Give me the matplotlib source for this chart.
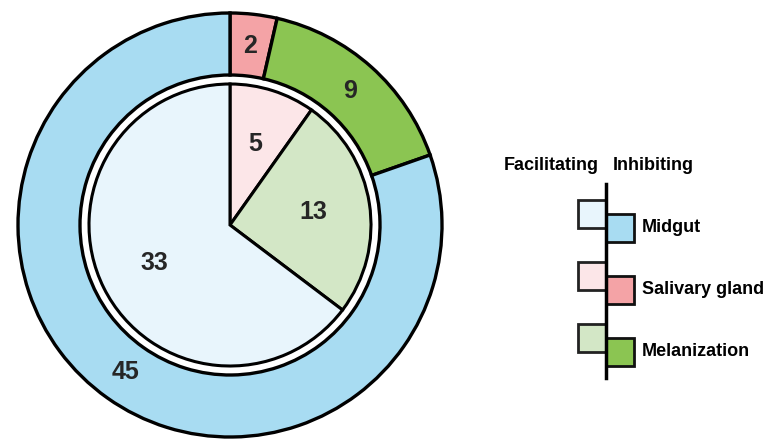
import numpy as np
import matplotlib.pyplot as plt
from matplotlib.patches import Rectangle

plt.rcParams['font.family'] = ['Liberation Sans', 'DejaVu Sans']

# data: inhibiting (outer ring) and facilitating (inner pie), same category order
categories = ["Salivary gland", "Melanization", "Midgut"]
inhibiting = [2, 9, 45]
facilitating = [5, 13, 33]

inhib_colors = ["#f4a3a6", "#8bc552", "#a8dcf2"]
facil_colors = ["#fce6e8", "#d3e7c6", "#e8f5fc"]

legend_order = ["Midgut", "Salivary gland", "Melanization"]

W, H = 771, 440
fig = plt.figure(figsize=(W / 100, H / 100), dpi=100)

# pie axes in pixel terms: centre (230, 225), outer radius 212 px
R = 212
lim = 1.05
cx, cy = 230, 225
side = 2 * R * lim
ax = fig.add_axes([(cx - side / 2) / W, (H - cy - side / 2) / H, side / W, side / H])

outer, _ = ax.pie(inhibiting, radius=1.0, startangle=90, counterclock=False,
                  colors=inhib_colors,
                  wedgeprops=dict(width=1 - 150 / R, edgecolor="black", linewidth=2.4))
inner, _ = ax.pie(facilitating, radius=141 / R, startangle=90, counterclock=False,
                  colors=facil_colors,
                  wedgeprops=dict(edgecolor="black", linewidth=2.2))

def put_labels(wedges, values, r):
    for w, v in zip(wedges, values):
        a = np.deg2rad((w.theta1 + w.theta2) / 2)
        ax.text(r * np.cos(a), r * np.sin(a), str(v), ha="center", va="center",
                fontsize=18, fontweight="bold", color="#262626")

put_labels(outer, inhibiting, 0.85)
put_labels(inner, facilitating, 0.40)

ax.set_xlim(-lim, lim)
ax.set_ylim(-lim, lim)
ax.set_aspect("equal")
ax.axis("off")

# custom legend drawn in pixel coordinates
lg = fig.add_axes([0, 0, 1, 1])
lg.set_xlim(0, W)
lg.set_ylim(H, 0)
lg.axis("off")

lg.text(551, 165, "Facilitating", ha="center", va="center", fontsize=13, fontweight="bold")
lg.text(653, 165, "Inhibiting", ha="center", va="center", fontsize=13, fontweight="bold")

line_x = 606
box = 28
for i, name in enumerate(legend_order):
    k = categories.index(name)
    top = 200 + i * 62
    lg.add_patch(Rectangle((line_x - box, top), box, box, facecolor=facil_colors[k],
                           edgecolor="#222222", linewidth=2))
    lg.add_patch(Rectangle((line_x, top + 14), box, box, facecolor=inhib_colors[k],
                           edgecolor="#111111", linewidth=2))
    lg.text(642, top + 27, name, ha="left", va="center", fontsize=13, fontweight="bold")
lg.plot([line_x, line_x], [184, 378], color="black", linewidth=2.5, zorder=5)

fig.savefig("out.png", dpi=100)
